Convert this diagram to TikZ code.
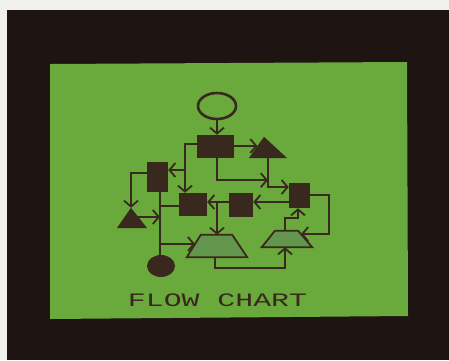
\documentclass[tikz,border=0pt]{standalone}
\usepackage{fontspec}
\newfontfamily\scrfont{Liberation Mono}
\usetikzlibrary{arrows.meta,calc,shapes.geometric}
\definecolor{paper}{RGB}{240,240,236}
\definecolor{bezel}{RGB}{30,20,18}
\definecolor{screen}{RGB}{106,170,60}
\definecolor{ink}{RGB}{56,40,30}
\definecolor{pale}{RGB}{98,150,76}
\begin{document}
\begin{tikzpicture}[x=1pt,y=-1pt,
  >={Straight Barb[length=6pt,width=14pt,line width=1.8pt]},
  conn/.style={draw=ink,line width=1.8pt,->},
  plainline/.style={draw=ink,line width=1.8pt},
  boxnode/.style 2 args={rectangle,fill=ink,draw=none,inner sep=0pt,minimum width=#1,minimum height=#2},
  holder/.style 2 args={rectangle,draw=none,inner sep=0pt,minimum width=#1,minimum height=#2},
  trapfill/.style={fill=pale,draw=ink,line width=1.8pt,line join=miter}]
\fill[paper] (0,0) rectangle (449,360);
\fill[bezel] (7,10) rectangle (449,360);
\fill[screen] (50,64) -- (407,62) -- (408,316) -- (50,319) -- cycle;
\useasboundingbox (0,0) rectangle (449,360);
% shapes
\node[ellipse,draw=ink,line width=2.6pt,minimum width=38pt,minimum height=26pt,inner sep=0pt] (o1) at (217,106) {};
\node[boxnode={37pt}{23pt}] (a) at (215.5,146.5) {};
\node[holder={38pt}{21pt}] (t1) at (268,147.5) {};
\coordinate (t1top) at ($(t1.north)+(-4,0)$);
\fill[ink] (t1.south west) -- (t1.south east) -- (t1top) -- cycle;
\node[boxnode={21pt}{30pt}] (b) at (157.5,177) {};
\node[boxnode={28pt}{23pt}] (c) at (193,204.5) {};
\node[boxnode={24pt}{24pt}] (d) at (241,205) {};
\node[boxnode={21pt}{25pt}] (e) at (299.5,195.5) {};
\node[holder={30pt}{20pt}] (t2) at (132,218) {};
\coordinate (t2top) at ($(t2.north)+(-1,0)$);
\fill[ink] (t2.south west) -- (t2.south east) -- (t2top) -- cycle;
\node[holder={60pt}{22pt}] (p1) at (217,246) {};
\coordinate (p1tl) at ($(p1.north west)+(14,0)$);
\coordinate (p1tr) at ($(p1.north east)+(-15,0)$);
\filldraw[trapfill] (p1.south west) -- (p1.south east) -- (p1tr) -- (p1tl) -- cycle;
\node[holder={50pt}{16pt}] (p2) at (287,239) {};
\coordinate (p2tl) at ($(p2.north west)+(13,0)$);
\coordinate (p2tr) at ($(p2.north east)+(-14,0)$);
\filldraw[trapfill] (p2.south west) -- (p2.south east) -- (p2tr) -- (p2tl) -- cycle;
\node[ellipse,fill=ink,minimum width=28pt,minimum height=22pt,inner sep=0pt] (f) at (161,266) {};
% junction coordinates
\coordinate (t1w) at ($(t1.south west)!0.57!(t1top)$);
\coordinate (aw) at ($(a.west)+(0,-2.5)$);
\coordinate (cn) at ($(c.north)+(-8,0)$);
\coordinate (be) at ($(b.east)+(0,-7)$);
\coordinate (as) at ($(a.south)+(1.5,0)$);
\coordinate (t1s) at (t1.south);
\coordinate (k1) at ($(as)+(0,22)$);
\coordinate (ewu) at ($(e.west)+(0,-8.5)$);
\coordinate (bw) at ($(b.west)+(0,-4)$);
\coordinate (bs) at ($(b.south)+(2.5,0)$);
\coordinate (cw) at ($(c.west)+(0,1.5)$);
\coordinate (t2e) at ($(t2.south east)!0.55!(t2top)$);
\coordinate (p1w) at ($(p1.south west)!0.59!(p1tl)$);
\coordinate (ew) at ($(e.west)+(0,6.5)$);
\coordinate (dw) at (d.west |- ew);
\coordinate (j2) at (dw -| as);
\coordinate (p1s) at ($(p1.south)+(-2,0)$);
\coordinate (p2s) at ($(p2.south)+(-2,0)$);
\coordinate (p2n) at (p2s |- p2.north);
\coordinate (es) at ($(e.south)+(-1.5,0)$);
\coordinate (ee) at ($(e.east)+(0,-0.5)$);
\coordinate (p2e) at ($(p2tr)!0.2!(p2.south east)$);
% connectors
\draw[conn] (o1.south) -- (o1.south |- a.north);
\draw[conn] (a.east |- t1w) -- (t1w);
\draw[conn] (aw) -| (cn);
\draw[conn] (cn |- be) -- (be);
\draw[conn] (as) -- (k1) -- (k1 -| t1s);
\draw[conn] (t1s) |- (ewu);
\draw[conn] (bw) -| (t2top);
\draw[plainline] (bs) -- (bs |- f.north);
\draw[plainline] (cw) -- (cw -| bs);
\draw[conn] (t2e) -- (t2e -| bs);
\draw[conn] (bs |- p1w) -- (p1w);
\draw[conn] (ew) -- (ew -| d.east);
\draw[conn] (dw) -- (dw -| c.east);
\draw[conn] (j2) -- (j2 |- p1.north);
\draw[conn] (p1s) -- ++(0,11) -| (p2s);
\draw[conn] (p2n) -- ++(0,-13) -| (es);
\draw[conn] (ee) -- ++(19,0) |- (p2e);
% title
\node[text=ink,font=\scrfont\fontsize{19}{19}\selectfont,xscale=1.57,inner sep=0pt] (title) at (217.5,300) {FLOW CHART};
\end{tikzpicture}
\end{document}
